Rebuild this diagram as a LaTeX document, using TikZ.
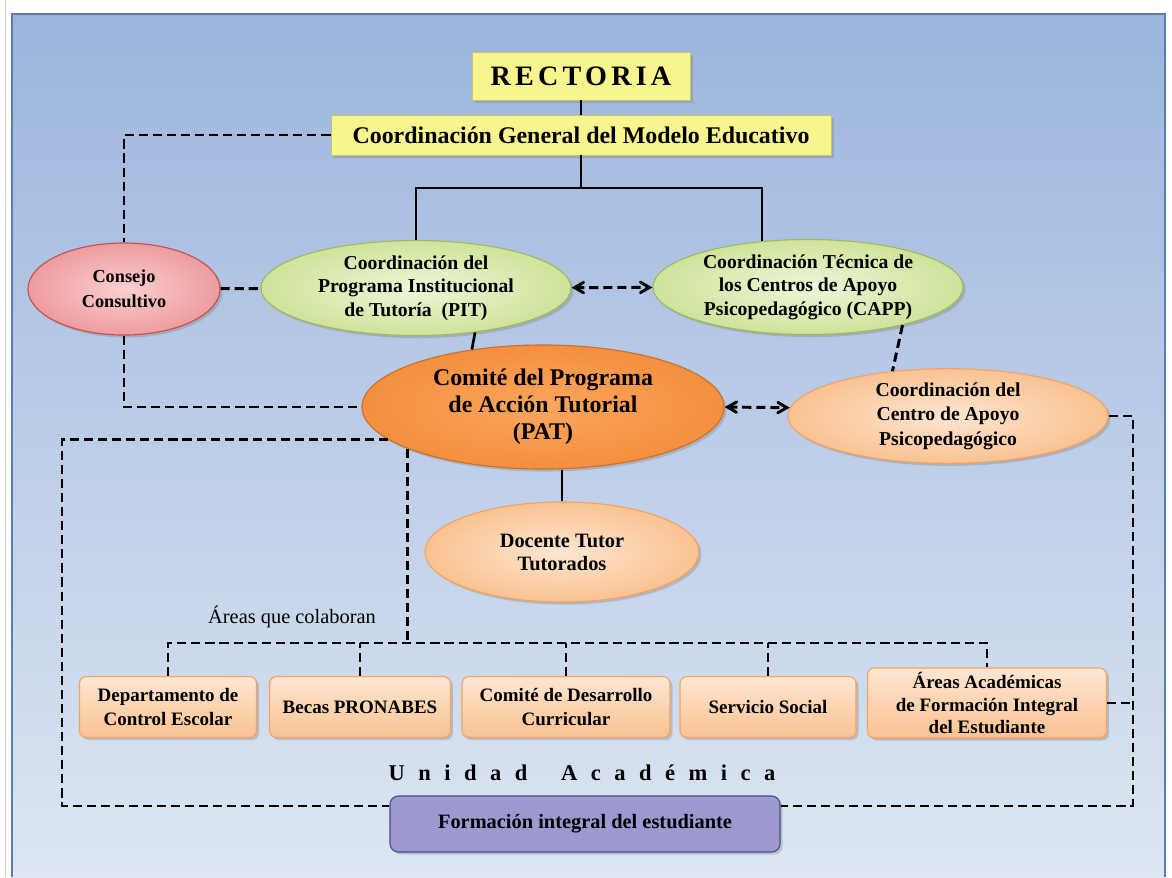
\documentclass[tikz,border=0pt]{standalone}
\usepackage{fontspec}
\setmainfont{Liberation Serif}
\usepackage{tikz}
\usetikzlibrary{arrows,shapes.geometric,shadows,calc}
\definecolor{bgtop}{HTML}{9CB5DD}
\definecolor{bgbot}{HTML}{DDE6F2}
\definecolor{panelline}{HTML}{5B7DB5}
\definecolor{yellowfill}{HTML}{F8F48E}
\definecolor{yellowline}{HTML}{C9C36A}
\definecolor{pinkin}{HTML}{F9CFD0}
\definecolor{pinkout}{HTML}{EE9C9E}
\definecolor{pinkline}{HTML}{C0504D}
\definecolor{greenin}{HTML}{EEF6D9}
\definecolor{greenout}{HTML}{CFE39A}
\definecolor{greenline}{HTML}{9BBB59}
\definecolor{orangein}{HTML}{F9A65E}
\definecolor{orangeout}{HTML}{F58F3E}
\definecolor{orangeline}{HTML}{C8702F}
\definecolor{peachin}{HTML}{FDE6D2}
\definecolor{peachout}{HTML}{FAC291}
\definecolor{peachline}{HTML}{F3A261}
\definecolor{purplefill}{HTML}{9D99D0}
\definecolor{purpleline}{HTML}{4A4A8C}

\begin{document}
\begin{tikzpicture}[x=0.025cm,y=-0.025cm,>=angle 60,
  every node/.style={align=center,inner sep=0pt},
  conn/.style={line width=1.9pt},
  dline/.style={line width=2.1pt,dash pattern=on 6.5pt off 3.5pt},
  softshadow/.style={drop shadow={opacity=0.35,shadow xshift=1.8pt,shadow yshift=-1.8pt}},
  yellowbox/.style={rectangle,draw=yellowline,line width=0.6pt,fill=yellowfill,softshadow},
  pinkell/.style={ellipse,draw=pinkline,line width=0.8pt,inner color=pinkin,outer color=pinkout,softshadow},
  greenell/.style={ellipse,draw=greenline,line width=0.8pt,inner color=greenin,outer color=greenout,softshadow},
  orangeell/.style={ellipse,draw=orangeline,line width=0.8pt,inner color=orangein,outer color=orangeout,softshadow},
  peachell/.style={ellipse,draw=peachline,line width=0.8pt,inner color=peachin,outer color=peachout,softshadow},
  peachbox/.style={rectangle,rounded corners=5pt,draw=peachline,line width=0.8pt,top color=peachin,bottom color=peachout,softshadow,
    minimum height=1.525cm,font=\bfseries\fontsize{13.5}{17.5}\selectfont},
  purplebox/.style={rectangle,rounded corners=6pt,draw=purpleline,line width=0.8pt,fill=purplefill,softshadow},
  midtext/.style={font=\bfseries\fontsize{14}{16.7}\selectfont}
]
\useasboundingbox (0,0) rectangle (1172,877);
\fill[white] (0,0) rectangle (1172,877);
\draw[black!20,line width=0.6pt] (5,0) -- (5,877);
\fill[top color=bgtop,bottom color=bgbot] (12,14) rectangle (1165,877);
\draw[panelline,line width=0.8pt] (12,877) -- (12,14) -- (1165,14) -- (1165,877);

\node[yellowbox,minimum width=5.45cm,minimum height=1.2cm,
  font=\bfseries\fontsize{20}{22}\selectfont\addfontfeature{LetterSpace=15}] (rect) at (581,76) {RECTORIA};
\node[yellowbox,minimum width=12.5cm,minimum height=1cm,
  font=\bfseries\fontsize{17}{19}\selectfont] (cg) at (581,135) {Coordinación General del Modelo Educativo};

\node[pinkell,minimum width=4.8cm,minimum height=2.3cm,font=\bfseries\fontsize{13}{17.8}\selectfont] (consejo) at (124,289) {Consejo\\Consultivo};
\node[greenell,midtext,minimum width=7.75cm,minimum height=2.375cm] (pit) at (416,288) {Coordinación del\\Programa Institucional\\de Tutoría~~(PIT)};
\node[greenell,midtext,minimum width=7.75cm,minimum height=2.375cm] (capp) at (808,287) {Coordinación Técnica de\\los Centros de Apoyo\\Psicopedagógico (CAPP)};
\node[orangeell,minimum width=9.05cm,minimum height=3.1cm,font=\bfseries\fontsize{17}{19.2}\selectfont] (pat) at (543,407) {Comité del Programa\\de Acción Tutorial\\(PAT)};
\node[peachell,minimum width=8cm,minimum height=2.1cm,font=\bfseries\fontsize{14}{17.4}\selectfont] (ccapp) at (948,416) {Coordinación del\\Centro de Apoyo\\Psicopedagógico};
\node[peachell,minimum width=6.85cm,minimum height=2.5cm,font=\bfseries\fontsize{14.5}{16.4}\selectfont] (docente) at (562,552) {Docente Tutor\\Tutorados};

\node[font=\fontsize{14.5}{16}\selectfont] (colab) at (292,617) {Áreas que colaboran};
\node[peachbox,minimum width=4.425cm] (dep) at (168,707) {Departamento de\\Control Escolar};
\node[peachbox,minimum width=4.525cm] (becas) at (360,707) {Becas PRONABES};
\node[peachbox,minimum width=5.2cm] (comite) at (566,707) {Comité de Desarrollo\\Curricular};
\node[peachbox,minimum width=4.4cm] (servicio) at (768,707) {Servicio Social};
\node[peachbox,minimum width=5.975cm,minimum height=1.75cm,font=\bfseries\fontsize{13.5}{16}\selectfont] (areas) at (987,703) {Áreas Académicas\\de Formación Integral\\del Estudiante};

\node[font=\bfseries\fontsize{16}{18}\selectfont\addfontfeature{LetterSpace=60}] (unidad) at (582,773) {Unidad\hspace{24pt}Académica};
\node[purplebox,minimum width=9.75cm,minimum height=1.4cm,font=\bfseries\fontsize{14.5}{17}\selectfont] (form) at (585,824) {Formación integral del estudiante};

\coordinate (fork) at (581,188);
\coordinate (bus) at (408,643);
\coordinate (lb) at (62,806);
\coordinate (rb) at (1133,806);

\draw[conn] (rect) -- (cg);
\draw[conn] (cg) -- (fork);
\draw[conn] (pit.north) |- (fork) -| (capp.135);
\draw[conn] (pit.-37) -- (pat.141);
\draw[conn] (docente.north) -- (docente.north |- pat.south);

\draw[dline] (cg.west) -| (consejo.north);
\draw[dline] (consejo) -- (pit);
\draw[dline,<->] (pit) -- (capp);
\draw[dline] (consejo.south) |- (pat.west);
\draw[dline] (capp.-22) -- (ccapp.141);
\draw[dline,<->] (pat.east) -- (ccapp.177);
\draw[dline] (ccapp.east) -| (rb) -- (rb -| form.east);
\draw[dline] (pat.192) -| (lb) -- (lb -| form.west);
\draw[dline] (pat.197) -- (pat.197 |- bus);
\draw[dline] (dep.north) |- (bus) -| (areas.north);
\foreach \n in {becas,comite,servicio}
  \draw[dline] (\n.north) -- (\n.north |- bus);
\draw[dline] (areas.east) -- (areas.east -| rb);
\end{tikzpicture}
\end{document}
